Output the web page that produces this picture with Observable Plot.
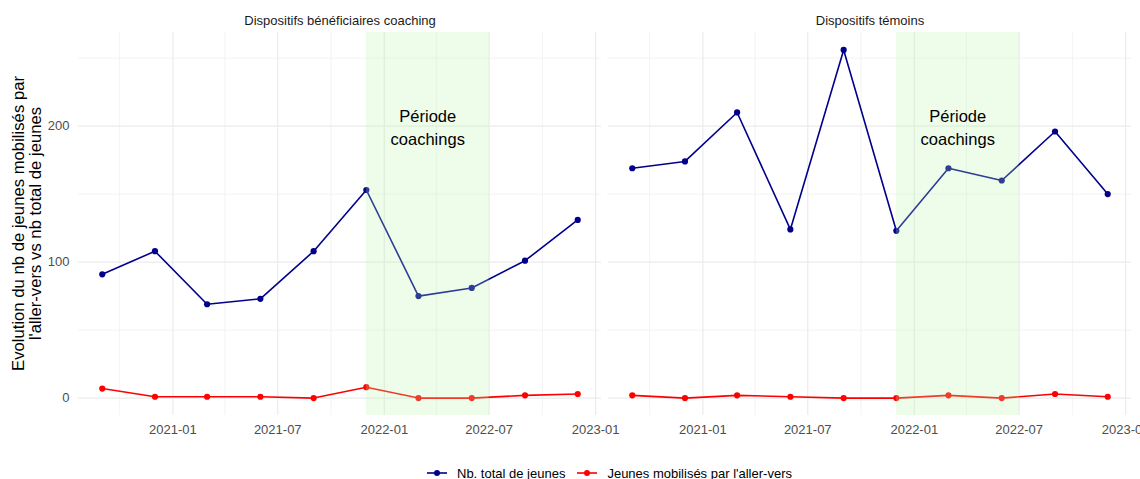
<!DOCTYPE html>
<html>
<head>
<meta charset="utf-8">
<script src="https://cdn.jsdelivr.net/npm/d3@7"></script>
<script src="https://cdn.jsdelivr.net/npm/@observablehq/plot@0.6"></script>
<style>
  html, body { margin: 0; padding: 0; background: #fff; }
  body { width: 1140px; height: 479px; position: relative; overflow: hidden; font-family: "Liberation Sans", Arial, sans-serif; }
  #chart { position: absolute; left: 0; top: 0; }
  #legend { position: absolute; left: 427px; top: 464px; height: 18px; display: flex; align-items: center; font-size: 13px; color: #000; white-space: nowrap; }
  .item { display: flex; align-items: center; margin-right: 12px; }
  .item svg { margin-right: 10px; }
</style>
</head>
<body>
<div id="chart"></div>
<div id="legend"></div>
<script>
// ---- data ----
const dates = ["2020-09-01", "2020-12-01", "2021-03-01", "2021-06-01", "2021-09-01",
               "2021-12-01", "2022-03-01", "2022-06-01", "2022-09-01", "2022-12-01"];
const facets = ["Dispositifs bénéficiaires coaching", "Dispositifs témoins"];
const seriesNames = ["Nb. total de jeunes", "Jeunes mobilisés par l'aller-vers"];
const totalCoaching = [91, 108, 69, 73, 108, 153, 75, 81, 101, 131];
const mobilCoaching = [7, 1, 1, 1, 0, 8, 0, 0, 2, 3];
const totalTemoins  = [169, 174, 210, 124, 256, 123, 169, 160, 196, 150];
const mobilTemoins  = [2, 0, 2, 1, 0, 0, 2, 0, 3, 1];
const periodStart = "2021-12-01";
const periodEnd = "2022-07-01";
const periodLabel = "Période\ncoachings";
const periodLabelY = 200;
const xMajorTicks = ["2021-01-01", "2021-07-01", "2022-01-01", "2022-07-01", "2023-01-01"];
const xMinorTicks = ["2020-10-01", "2021-04-01", "2021-10-01", "2022-04-01", "2022-10-01"];
const yMajorTicks = [0, 100, 200];
const yMinorTicks = [50, 150, 250];
const yTitle = ["Evolution du nb de jeunes mobilisés par", "l'aller-vers vs nb total de jeunes"];
const seriesColors = ["#00008B", "#FF0000"];

// ---- build table ----
const parse = d3.utcParse("%Y-%m-%d");
const valueSets = [[totalCoaching, mobilCoaching], [totalTemoins, mobilTemoins]];
const rows = [];
facets.forEach((f, fi) => {
  seriesNames.forEach((s, si) => {
    dates.forEach((d, di) => {
      rows.push({facet: f, series: s, date: parse(d), value: valueSets[fi][si][di]});
    });
  });
});

const xMin = d3.min(dates, parse), xMax = d3.max(dates, parse);
const xPad = (xMax - xMin) * 0.05;
const allVals = rows.map(r => r.value);
const yLo = Math.min(0, d3.min(allVals)), yHi = d3.max(allVals);
const yPad = (yHi - yLo) * 0.05;

const midPeriod = new Date((+parse(periodStart) + +parse(periodEnd)) / 2);

const plot = Plot.plot({
  width: 1140,
  height: 445,
  marginLeft: 77,
  marginRight: 9,
  marginTop: 32,
  marginBottom: 30,
  style: {fontFamily: "'Liberation Sans', Arial, sans-serif", background: "#fff"},
  fx: {domain: facets, paddingInner: 0.0141, paddingOuter: 0, axis: null, label: null},
  x: {type: "utc", domain: [new Date(+xMin - xPad), new Date(+xMax + xPad)], axis: null},
  y: {domain: [yLo - yPad, yHi + yPad], axis: null},
  color: {domain: seriesNames, range: seriesColors},
  marks: [
    Plot.ruleY(yMinorTicks, {stroke: "#EBEBEB", strokeWidth: 0.6}),
    Plot.ruleX(xMinorTicks.map(parse), {stroke: "#EBEBEB", strokeWidth: 0.6}),
    Plot.ruleY(yMajorTicks, {stroke: "#EBEBEB", strokeWidth: 1.2}),
    Plot.ruleX(xMajorTicks.map(parse), {stroke: "#EBEBEB", strokeWidth: 1.2}),
    Plot.line(rows, {fx: "facet", x: "date", y: "value", z: "series", stroke: "series", strokeWidth: 1.6}),
    Plot.dot(rows, {fx: "facet", x: "date", y: "value", fill: "series", r: 3.1, stroke: "none"}),
    Plot.rect([{a: parse(periodStart), b: parse(periodEnd)}], {x1: "a", x2: "b", fill: "#BDF6AA", fillOpacity: 0.25}),
    Plot.text([{x: midPeriod, y: periodLabelY, t: periodLabel}], {x: "x", y: "y", text: "t", fontSize: 16.5, lineHeight: 1.4, fill: "#000"}),
    Plot.text(facets, {fx: d => d, text: d => d, frameAnchor: "top", lineAnchor: "middle", dy: -11.5, fontSize: 13, fill: "#1A1A1A"}),
    Plot.axisX({ticks: xMajorTicks.map(parse), tickFormat: d3.utcFormat("%Y-%m"), tickSize: 0, tickPadding: 9, fontSize: 13, color: "#4D4D4D", label: null}),
    Plot.axisY({ticks: yMajorTicks, tickSize: 0, tickPadding: 9, fontSize: 13, color: "#4D4D4D", label: null})
  ]
});
document.getElementById("chart").appendChild(plot);

// y-axis title (two rotated lines)
const svg = d3.select(plot);
const titleCenterY = 223.5;
yTitle.forEach((line, i) => {
  svg.append("text")
    .attr("transform", `translate(${18 + i * 17.5},${titleCenterY}) rotate(-90)`)
    .attr("text-anchor", "middle")
    .attr("dy", "0.35em")
    .attr("font-size", 16.7)
    .attr("fill", "#000")
    .attr("font-family", "'Liberation Sans', Arial, sans-serif")
    .text(line);
});

// legend
const legend = d3.select("#legend");
seriesNames.forEach((s, i) => {
  const item = legend.append("div").attr("class", "item");
  const k = item.append("svg").attr("width", 20).attr("height", 10);
  k.append("line").attr("x1", 0).attr("x2", 20).attr("y1", 5).attr("y2", 5)
    .attr("stroke", seriesColors[i]).attr("stroke-width", 1.6);
  k.append("circle").attr("cx", 10).attr("cy", 5).attr("r", 3).attr("fill", seriesColors[i]);
  item.append("span").text(s);
});
</script>
</body>
</html>
